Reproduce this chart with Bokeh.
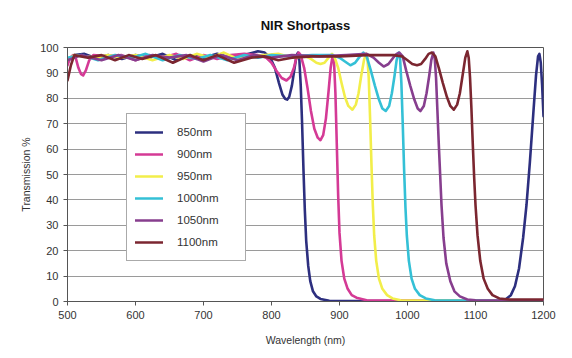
from bokeh.plotting import figure
from bokeh.models import Legend, LegendItem, FixedTicker, Range1d
from bokeh.embed import file_html
from bokeh.resources import INLINE

# ---- data ----
wl_850 = [500, 510, 525, 540, 560, 580, 600, 620, 640, 660, 680, 700, 720, 740, 760, 780, 790, 798, 805, 811, 816, 820, 823, 826, 830, 834, 837, 839, 841, 843, 845, 847, 849, 851, 854, 857, 861, 866, 872, 885, 1000, 1130, 1145, 1152, 1158, 1164, 1170, 1175, 1180, 1185, 1189, 1192, 1194, 1196, 1198, 1200]
t_850 = [95, 97, 97.5, 96, 97, 95.5, 97, 96, 97.5, 95, 97, 96, 97.5, 96, 97, 98.5, 98, 96, 92, 86, 81.5, 79.8, 79.5, 80.5, 85, 92, 97, 98, 95, 85, 70, 52, 36, 24, 14, 8, 4, 2, 1, 0.3, 0.2, 0.5, 1, 2.5, 6, 13, 25, 38, 55, 74, 89, 96.5, 97.5, 94, 85, 73]

wl_900 = [500, 504, 508, 512, 516, 520, 523, 527, 532, 538, 560, 580, 600, 620, 640, 660, 680, 700, 720, 740, 760, 780, 792, 800, 808, 815, 822, 828, 833, 837, 840, 843, 848, 853, 858, 863, 868, 872, 876, 880, 884, 887, 890, 892, 894, 896, 898, 900, 903, 907, 912, 918, 925, 940, 1200]
t_900 = [93, 96, 97, 96, 92, 89.5, 89, 91, 95, 97, 96.5, 97, 95, 97, 96, 97.5, 95, 97, 95.5, 97, 97.5, 97, 96, 94, 90.5, 88, 87, 88.5, 92, 96.5, 98, 97, 92, 84, 75, 68, 64.5, 63.5, 65.5, 72, 83, 92, 97, 94, 82, 62, 42, 27, 16, 9, 5, 2.5, 1.5, 0.5, 0.3]

wl_950 = [500, 510, 540, 560, 580, 600, 625, 650, 670, 690, 710, 730, 750, 770, 790, 810, 830, 850, 858, 866, 872, 878, 884, 889, 893, 898, 903, 908, 913, 919, 924, 928, 932, 936, 939, 941, 943, 945, 947, 949, 951, 954, 958, 963, 970, 978, 990, 1200]
t_950 = [95, 97, 96, 97, 96, 97, 95, 97, 95.5, 97.5, 96, 98, 95.5, 96.5, 97, 97.5, 96, 96.5, 95.5, 94, 93.5, 94, 96, 97.5, 96, 92, 86, 80.5, 77, 75.5, 77.5, 82, 89, 95, 97.5, 96, 88, 72, 54, 38, 26, 16, 9, 5, 2.5, 1.2, 0.5, 0.2]

wl_1000 = [500, 520, 545, 570, 595, 615, 640, 665, 690, 710, 735, 760, 780, 800, 830, 860, 890, 900, 908, 916, 923, 930, 935, 940, 946, 952, 958, 963, 968, 973, 977, 981, 984, 987, 989, 991, 993, 995, 997, 999, 1002, 1006, 1011, 1018, 1027, 1040, 1200]
t_1000 = [96, 97, 95, 97, 96, 97.5, 95, 97, 95.5, 97, 95, 97, 96, 97, 96.5, 97, 97, 96, 94.5, 93, 94, 96.5, 98, 96.5, 91, 85, 79.5, 76, 75, 77, 82, 89, 95, 98, 96, 86, 70, 52, 37, 26, 16, 9, 5, 2.5, 1.2, 0.5, 0.2]

wl_1050 = [500, 520, 550, 575, 600, 625, 650, 675, 700, 725, 750, 775, 800, 830, 870, 910, 940, 950, 958, 965, 972, 979, 984, 988, 993, 998, 1004, 1010, 1015, 1019, 1024, 1028, 1032, 1035, 1038, 1040, 1042, 1044, 1046, 1048, 1050, 1053, 1057, 1063, 1069, 1077, 1088, 1100, 1200]
t_1050 = [95, 97, 95, 97, 95, 97, 96, 97, 94.5, 97, 95, 97, 96, 97, 96.5, 97, 97.5, 96, 94, 92.5, 93.5, 96, 97.5, 98, 96.5, 91, 85, 79.5, 76, 75, 77, 82, 89, 95, 98, 96, 88, 75, 62, 50, 38, 25, 15, 8, 4, 2, 0.8, 0.5, 0.2]

wl_1100 = [500, 505, 510, 530, 550, 570, 590, 610, 630, 655, 680, 700, 720, 745, 770, 790, 810, 830, 860, 900, 940, 980, 992, 1000, 1007, 1014, 1020, 1026, 1031, 1036, 1041, 1046, 1052, 1058, 1063, 1068, 1073, 1077, 1081, 1085, 1088, 1090, 1092, 1094, 1096, 1098, 1100, 1103, 1107, 1112, 1118, 1125, 1135, 1150, 1200]
t_1100 = [87, 93, 97, 96, 97, 95, 97, 95.5, 97, 94, 97, 95, 97, 94, 96, 96.5, 95, 96, 96.5, 96.5, 97, 97, 96.5, 95, 93.5, 93, 93.5, 95.5, 97.5, 98, 96.5, 92, 86, 80.5, 77, 75.5, 77.5, 82, 89, 96, 98.5, 96, 88, 76, 62, 49, 38, 26, 16, 9, 5, 2.5, 1.2, 0.8, 0.8]

series_names = ["850nm", "900nm", "950nm", "1000nm", "1050nm", "1100nm"]
y_ticks = [0, 10, 20, 30, 40, 50, 60, 70, 80, 90, 100]
x_ticks = [500, 600, 700, 800, 900, 1000, 1100, 1200]

series = [(wl_850, t_850), (wl_900, t_900), (wl_950, t_950),
          (wl_1000, t_1000), (wl_1050, t_1050), (wl_1100, t_1100)]
colors = ["#2d2f7f", "#d43a95", "#f2ee4a", "#34c0d6", "#873e8e", "#7b2630"]

FONT = "Liberation Sans"

p = figure(width=556, height=350, output_backend="svg", toolbar_location=None,
           x_range=Range1d(500, 1200), y_range=Range1d(0, 100),
           min_border_left=67, min_border_right=13, min_border_top=46, min_border_bottom=49)
p.title.text = "NIR Shortpass"
p.title.align = "center"
p.title.text_font = FONT
p.title.text_font_size = "13px"
p.title.text_font_style = "bold"
p.title.text_color = "#111111"
p.title.standoff = 30

p.outline_line_color = "#555555"
p.outline_line_width = 1
p.xgrid.grid_line_color = None
p.ygrid.grid_line_color = "#9a9a9a"
p.ygrid.grid_line_width = 1

for ax in (p.xaxis[0], p.yaxis[0]):
    ax.axis_line_color = "#555555"
    ax.major_tick_line_color = "#555555"
    ax.major_tick_out = 4
    ax.major_tick_in = 0
    ax.minor_tick_line_color = None
    ax.major_label_text_font = FONT
    ax.major_label_text_font_size = "11px"
    ax.major_label_text_color = "#333333"
    ax.axis_label_text_font = FONT
    ax.axis_label_text_font_size = "10.5px"
    ax.axis_label_text_font_style = "normal"
    ax.axis_label_text_color = "#333333"

p.xaxis.ticker = FixedTicker(ticks=x_ticks)
p.yaxis.ticker = FixedTicker(ticks=y_ticks)
p.xaxis.axis_label = "Wavelength (nm)"
p.yaxis.axis_label = "Transmission %"
p.xaxis.axis_label_standoff = 12
p.yaxis.axis_label_standoff = 5

items = []
for (xs, ys), c, name in zip(series, colors, series_names):
    r = p.line(xs, ys, line_color=c, line_width=2.6, line_join="round", line_cap="round")
    items.append(LegendItem(label=name, renderers=[r]))

legend = Legend(items=items, location=(59, 40),
                label_text_font=FONT, label_text_font_size="11.5px", label_text_color="#333333",
                glyph_width=28, glyph_height=20, label_height=20, label_width=60,
                label_standoff=14, spacing=2, padding=8, margin=0,
                border_line_color="#555555", border_line_width=1,
                background_fill_color="white", background_fill_alpha=1.0)
p.add_layout(legend, "center")

open("out.html", "w").write(file_html(p, INLINE))
